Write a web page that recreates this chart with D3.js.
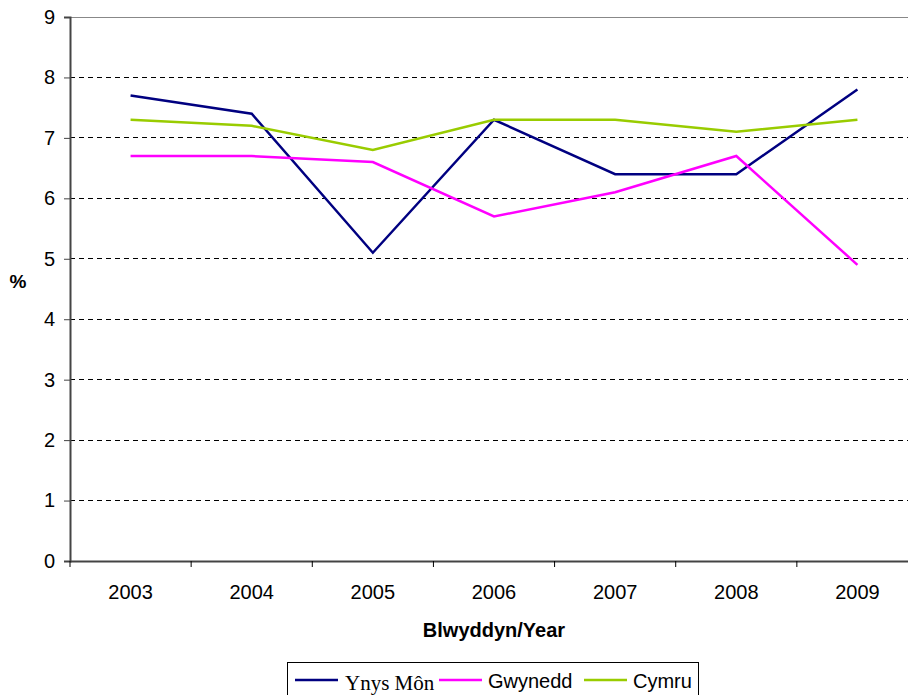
<!DOCTYPE html>
<html lang="en">
<head>
<meta charset="UTF-8">
<title>Ynys Môn / Gwynedd / Cymru</title>
<script src="https://d3js.org/d3.v7.min.js"></script>
<style>
    body { margin: 0; background: #fff; }
    svg { display: block; font-family: Arial, "Liberation Sans", sans-serif; }
</style>
</head>
<body>
<svg id="chart" width="908" height="695"></svg>
<script>
    // Data
    const years = ["2003", "2004", "2005", "2006", "2007", "2008", "2009"];
    const ynysMon = [7.7, 7.4, 5.1, 7.3, 6.4, 6.4, 7.8];
    const gwynedd = [6.7, 6.7, 6.6, 5.7, 6.1, 6.7, 4.9];
    const cymru = [7.3, 7.2, 6.8, 7.3, 7.3, 7.1, 7.3];
    const yTicks = [0, 1, 2, 3, 4, 5, 6, 7, 8, 9];

    const series = [
        { name: "Ynys Môn", values: ynysMon, color: "#000080" },
        { name: "Gwynedd", values: gwynedd, color: "#FF00FF" },
        { name: "Cymru", values: cymru, color: "#99CC00" }
    ];

    const svg = d3.select("#chart");
    const margin = { top: 17, left: 70 };
    const width = 848, height = 544;
    const fontSize = 20;

    const chart = svg.append("g")
        .attr("transform", `translate(${margin.left},${margin.top})`);

    const x = d3.scaleBand().domain(years).range([0, width]);
    const y = d3.scaleLinear().domain([0, 9]).range([height, 0]);

    // gridlines
    chart.selectAll(".grid")
        .data(yTicks.filter(d => d > 0))
        .enter().append("line")
        .attr("x1", 0).attr("x2", width)
        .attr("y1", d => y(d)).attr("y2", d => y(d))
        .attr("stroke", d => d === 9 ? "#888" : "#000")
        .attr("stroke-width", 1)
        .attr("stroke-dasharray", d => d === 9 ? null : "5,4")
        .attr("shape-rendering", "crispEdges");

    // y axis
    const yAxis = chart.append("g")
        .call(d3.axisLeft(y).tickValues(yTicks).tickSize(6).tickPadding(9));
    yAxis.select(".domain").attr("stroke", "#444").attr("stroke-width", 2);
    yAxis.selectAll(".tick line").attr("stroke", "#444");
    yAxis.selectAll("text").attr("font-size", fontSize).attr("fill", "#000")
        .attr("font-family", "Arial, 'Liberation Sans', sans-serif");

    // x axis
    const xAxis = chart.append("g")
        .attr("transform", `translate(0,${height})`)
        .call(d3.axisBottom(x).tickSize(0).tickPadding(24));
    xAxis.select(".domain").attr("stroke", "#444").attr("stroke-width", 2);
    xAxis.selectAll("text").attr("font-size", fontSize).attr("fill", "#000")
        .attr("font-family", "Arial, 'Liberation Sans', sans-serif");

    // category boundary ticks
    chart.selectAll(".xtick")
        .data(years)
        .enter().append("line")
        .attr("x1", d => x(d)).attr("x2", d => x(d))
        .attr("y1", height).attr("y2", height + 6)
        .attr("stroke", "#000");

    // lines
    const line = d3.line()
        .x((d, i) => x(years[i]) + x.bandwidth() / 2)
        .y(d => y(d));

    series.forEach(s => {
        chart.append("path")
            .datum(s.values)
            .attr("fill", "none")
            .attr("stroke", s.color)
            .attr("stroke-width", 2.5)
            .attr("d", line);
    });

    // axis titles
    svg.append("text")
        .attr("x", 494).attr("y", 637)
        .attr("text-anchor", "middle")
        .attr("font-size", fontSize).attr("font-weight", "bold")
        .text("Blwyddyn/Year");

    svg.append("text")
        .attr("x", 18).attr("y", 288)
        .attr("text-anchor", "middle")
        .attr("font-size", 19).attr("font-weight", "bold")
        .text("%");

    // legend
    svg.append("rect")
        .attr("x", 287.5).attr("y", 662.5)
        .attr("width", 411).attr("height", 40)
        .attr("fill", "#fff").attr("stroke", "#000");

    const legendX = [295, 439, 584];
    series.forEach((s, i) => {
        svg.append("line")
            .attr("x1", legendX[i]).attr("x2", legendX[i] + 43)
            .attr("y1", 680).attr("y2", 680)
            .attr("stroke", s.color).attr("stroke-width", 2.5);
        svg.append("text")
            .attr("x", legendX[i] + (i === 0 ? 50 : 49))
            .attr("y", i === 0 ? 690 : 688)
            .attr("font-size", i === 0 ? 21 : fontSize)
            .attr("font-family", i === 0 ? "'Liberation Serif', 'Times New Roman', serif" : "Arial, 'Liberation Sans', sans-serif")
            .text(s.name);
    });
</script>
</body>
</html>
